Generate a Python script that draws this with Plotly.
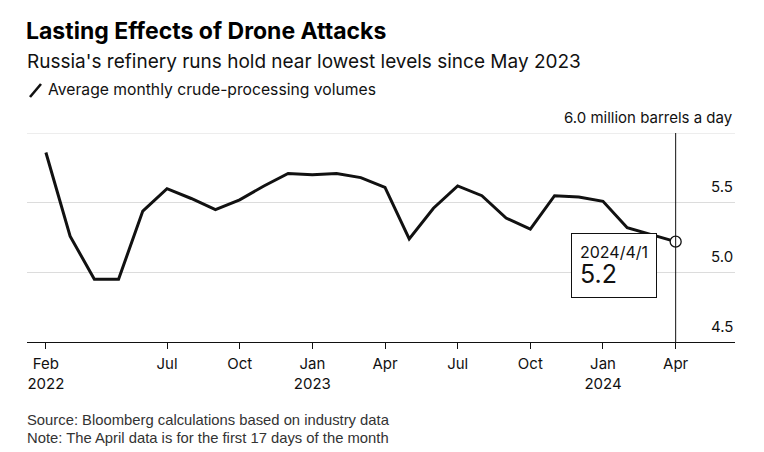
import plotly.graph_objects as go

# monthly crude-processing volumes, million barrels a day (Feb 2022 - Apr 2024)
months = ["2022-02", "2022-03", "2022-04", "2022-05", "2022-06", "2022-07", "2022-08",
          "2022-09", "2022-10", "2022-11", "2022-12", "2023-01", "2023-02", "2023-03",
          "2023-04", "2023-05", "2023-06", "2023-07", "2023-08", "2023-09", "2023-10",
          "2023-11", "2023-12", "2024-01", "2024-02", "2024-03", "2024-04"]
volumes = [5.86, 5.26, 4.95, 4.95, 5.44, 5.60, 5.53, 5.45, 5.52, 5.62, 5.71, 5.70, 5.71,
           5.68, 5.61, 5.24, 5.46, 5.62, 5.55, 5.39, 5.31, 5.55, 5.54, 5.51, 5.32, 5.27, 5.22]

tick_months = ["2022-02", "2022-07", "2022-10", "2023-01", "2023-04",
               "2023-07", "2023-10", "2024-01", "2024-04"]
tick_labels = ["Feb<br>2022", "Jul", "Oct", "Jan<br>2023", "Apr",
               "Jul", "Oct", "Jan<br>2024", "Apr"]

y_ticks = [4.5, 5.0, 5.5, 6.0]
y_tick_labels = ["4.5", "5.0", "5.5", "6.0 million barrels a day"]

FONT = "Inter, Liberation Sans, Arial, sans-serif"
FOOT_FONT = "Liberation Sans, Arial, sans-serif"

# page has an 8px body margin, so the figure is 8px smaller and coordinates are offset
OFF = 8
W, H = 764 - OFF, 452 - OFF
L, R, T, B = 27 - OFF, 29, 133 - OFF, 110
pw, ph = W - L - R, H - T - B


def px(x):
    return (x - OFF - L) / pw


def py(y):
    return (H - B - (y - OFF)) / ph


x = list(range(len(months)))
tickvals = [months.index(m) for m in tick_months]
last = len(months) - 1

fig = go.Figure()

fig.add_trace(go.Scatter(
    x=x, y=volumes, mode="lines",
    line=dict(color="#111111", width=3),
    hoverinfo="skip", showlegend=False
))

# top gridline sits on the range edge
fig.add_hline(y=y_ticks[-1], line_color="#dcdcdc", line_width=1)

# vertical marker line for the latest month
fig.add_vline(x=last, line_color="#111111", line_width=1)

fig.add_trace(go.Scatter(
    x=[last], y=[volumes[-1]], mode="markers",
    marker=dict(size=11, color="white", line=dict(color="#111111", width=1.3)),
    hoverinfo="skip", showlegend=False
))

fig.add_annotation(
    x=last, y=volumes[-1], xref="x", yref="y",
    text="<span style='font-size:16px'>2024/4/1</span><br><span style='font-size:25px'>5.2</span>",
    showarrow=False, xanchor="right", yanchor="top", align="left",
    xshift=-19, yshift=9,
    bordercolor="#111111", borderwidth=1, borderpad=8, bgcolor="white",
    font=dict(family=FONT, size=19, color="#111111")
)

# right-hand value labels sit just above their gridlines
for v, lab in zip(y_ticks, y_tick_labels):
    fig.add_annotation(x=1, y=v, xref="paper", yref="y", text=lab,
                       showarrow=False, xanchor="right", yanchor="middle", yshift=16,
                       font=dict(family=FONT, size=15, color="#111111"))

# header
fig.add_annotation(x=px(25), y=py(62), xref="paper", yref="paper",
                   text="Russia's refinery runs hold near lowest levels since May 2023",
                   showarrow=False, xanchor="left", yanchor="middle",
                   font=dict(family=FONT, size=19, color="#111111"))
fig.add_annotation(x=px(46), y=py(90), xref="paper", yref="paper",
                   text="Average monthly crude-processing volumes",
                   showarrow=False, xanchor="left", yanchor="middle",
                   font=dict(family=FONT, size=15.7, color="#111111"))
fig.add_shape(type="line", xref="paper", yref="paper",
              x0=px(30), y0=py(97), x1=px(41), y1=py(84),
              line=dict(color="#111111", width=2.6))

# footer
fig.add_annotation(x=px(25), y=py(420), xref="paper", yref="paper",
                   text="Source: Bloomberg calculations based on industry data",
                   showarrow=False, xanchor="left", yanchor="middle",
                   font=dict(family=FOOT_FONT, size=14.8, color="#333333"))
fig.add_annotation(x=px(25), y=py(438), xref="paper", yref="paper",
                   text="Note: The April data is for the first 17 days of the month",
                   showarrow=False, xanchor="left", yanchor="middle",
                   font=dict(family=FOOT_FONT, size=14.8, color="#333333"))

fig.update_layout(
    width=W, height=H,
    margin=dict(l=L, r=R, t=T, b=B),
    paper_bgcolor="white", plot_bgcolor="white",
    font=dict(family=FONT, size=15, color="#111111"),
    title=dict(text="<b>Lasting Effects of Drone Attacks</b>",
               x=(L - 1) / W, xanchor="left", xref="container",
               y=1 - (31 - OFF) / H, yanchor="middle", yref="container",
               font=dict(family=FONT, size=23, color="#000000")),
    xaxis=dict(range=[-0.78, last + 2.45], tickvals=tickvals, ticktext=tick_labels,
               showgrid=False, zeroline=False, showline=True, linecolor="#111111",
               linewidth=1.2, ticks="outside", ticklen=6, tickcolor="#111111",
               ticklabelstandoff=2, automargin=False,
               tickfont=dict(family=FONT, size=15, color="#111111")),
    yaxis=dict(range=[4.5, 6.0], tickvals=y_ticks, showticklabels=False,
               showgrid=True, gridcolor="#dcdcdc", gridwidth=1, zeroline=False,
               ticks="", showline=False, automargin=False),
    showlegend=False,
)

fig.write_html("out.html")
